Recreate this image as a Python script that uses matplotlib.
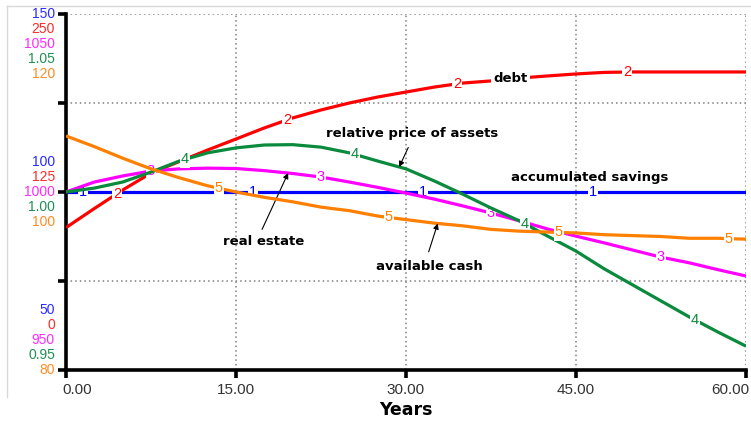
import numpy as np
import matplotlib
matplotlib.use('Agg')
import matplotlib.pyplot as plt
import matplotlib.transforms as mtransforms
from matplotlib.lines import Line2D

# time axis (years) and the five simulated series
years = [0, 2.5, 5, 7.5, 10, 12.5, 15, 17.5, 20, 22.5, 25, 27.5, 30,
         32.5, 35, 37.5, 40, 42.5, 45, 47.5, 50, 52.5, 55, 57.5, 60]

accumulated_savings = [100.0] * len(years)

debt = [100.0, 113.4, 126.4, 138.3, 146.4, 154.5, 162.2, 170.0, 177.0,
        182.6, 187.5, 191.7, 195.2, 198.7, 201.5, 203.0, 205.0, 206.5,
        207.9, 209.0, 209.3, 209.3, 209.3, 209.3, 209.3]

real_estate = [1000.0, 1002.8, 1004.5, 1005.9, 1006.5, 1006.7, 1006.6,
               1006.0, 1005.2, 1004.2, 1002.8, 1001.3, 999.7, 998.0, 996.1,
               994.1, 991.9, 989.6, 987.6, 985.7, 983.7, 981.7, 980.1,
               978.2, 976.4]

relative_price = [1.0000, 1.0011, 1.0028, 1.0056, 1.0087, 1.0110, 1.0124,
                  1.0132, 1.0133, 1.0126, 1.0110, 1.0087, 1.0065, 1.0031,
                  0.9994, 0.9955, 0.9919, 0.9876, 0.9834, 0.9784, 0.9739,
                  0.9694, 0.9649, 0.9607, 0.9567]

available_cash = [106.3, 105.1, 103.8, 102.6, 101.6, 100.7, 100.0, 99.4,
                  98.9, 98.3, 97.9, 97.3, 96.9, 96.5, 96.2, 95.8, 95.6,
                  95.5, 95.4, 95.2, 95.1, 95.0, 94.8, 94.8, 94.7]

# per-series axis ranges and the left-hand labels (bottom, middle, top)
scales = [(50, 150), (0, 250), (950, 1050), (0.95, 1.05), (80, 120)]
axis_labels = [['50', '100', '150'],
               ['0', '125', '250'],
               ['950', '1000', '1050'],
               ['0.95', '1.00', '1.05'],
               ['80', '100', '120']]

x_ticks = [0, 15, 30, 45, 60]
x_tick_labels = ['0.00', '15.00', '30.00', '45.00', '60.00']

series = [accumulated_savings, debt, real_estate, relative_price, available_cash]
line_colors = ['#0000ff', '#ff0000', '#ff00ff', '#0a8a3c', '#ff8000']
text_colors = ['#2a2aff', '#ff2a2a', '#ff2aff', '#209050', '#ff8c22']

fig = plt.figure(figsize=(7.51, 4.21), dpi=100)
ax = fig.add_axes([66 / 751, 1 - 370 / 421, 680 / 751, 356 / 421])
axes = [ax] + [ax.twinx() for _ in range(4)]

for a, (lo, hi) in zip(axes, scales):
    a.set_xlim(0, 60)
    a.set_ylim(lo, hi)

for a in axes[1:]:
    for s in a.spines.values():
        s.set_visible(False)
    a.set_yticks([])

# main frame: thick left/bottom axes, dotted grid
ax.spines['top'].set_visible(False)
ax.spines['right'].set_visible(False)
ax.spines['left'].set_linewidth(2.6)
ax.spines['bottom'].set_linewidth(2.6)
ax.set_xticks(x_ticks)
ax.set_xticklabels(x_tick_labels, family='Liberation Sans', fontsize=11, color='#333333')
ax.set_yticks(np.linspace(50, 150, 5))
ax.tick_params(axis='both', direction='out', length=6, width=2.6, pad=3)
ax.tick_params(axis='y', labelleft=False)
ax.grid(True, linestyle=(0, (1, 2)), color='#808080', linewidth=1.1)
ax.set_xlabel('Years', fontsize=12.5, fontweight='bold', labelpad=3)

# first and last x labels hug the ends of the axis, like the original
ticklabels = ax.get_xticklabels()
ticklabels[0].set_ha('left')
ticklabels[0].set_transform(ticklabels[0].get_transform() +
                            mtransforms.ScaledTranslation(-4 / 100, 0, fig.dpi_scale_trans))
ticklabels[-1].set_ha('right')
ticklabels[-1].set_transform(ticklabels[-1].get_transform() +
                             mtransforms.ScaledTranslation(3 / 100, 0, fig.dpi_scale_trans))

# stacked, coloured value labels on the left
for k, (a, labels, col) in enumerate(zip(axes, axis_labels, text_colors)):
    lo, hi = scales[k]
    mid = (lo + hi) / 2
    offsets = [(4 - k) * 10.8, (2 - k) * 10.8, -k * 10.8]
    for val, lab, off in zip([lo, mid, hi], labels, offsets):
        a.annotate(lab, xy=(0, val), xycoords=a.get_yaxis_transform(),
                   xytext=(-8, off), textcoords='offset points',
                   ha='right', va='center', color=col,
                   family='Liberation Sans', fontsize=10, annotation_clip=False)

# the curves with their numbered markers
for k, (a, ys, col) in enumerate(zip(axes, series, line_colors)):
    a.plot(years, ys, color=col, linewidth=2.3, solid_capstyle='butt')
    for j in range(4):
        t = 1.5 + 3 * k + 15 * j
        a.text(t, np.interp(t, years, ys), str(k + 1), color=col,
               ha='center', va='center', family='Liberation Sans', fontsize=10.5,
               bbox=dict(facecolor='white', edgecolor='none', pad=0.8))

# text annotations
font = dict(fontsize=9.5, fontweight='bold', color='black', ha='center', va='center')
arrow = dict(arrowstyle='-|>', color='black', lw=0.8, mutation_scale=8,
             shrinkA=0, shrinkB=0)

ax_debt = axes[1]
ax_debt.text(39.2, np.interp(39.2, years, debt), 'debt',
             bbox=dict(facecolor='white', edgecolor='none', pad=1.5), **font)
ax.text(46.2, 104.2, 'accumulated savings', **font)

ax.text(30.5, 116.3, 'relative price of assets', **font)
axes[3].annotate('', xy=(29.4, np.interp(29.4, years, relative_price)),
                 xytext=(30.2, 112.5), textcoords=ax.transData, arrowprops=arrow)

ax.text(17.4, 86.2, 'real estate', **font)
axes[2].annotate('', xy=(19.6, np.interp(19.6, years, real_estate)),
                 xytext=(17.3, 89.5), textcoords=ax.transData, arrowprops=arrow)

ax.text(32.1, 79.2, 'available cash', **font)
axes[4].annotate('', xy=(32.8, np.interp(32.8, years, available_cash)),
                 xytext=(32.0, 83.2), textcoords=ax.transData, arrowprops=arrow)

# light window frame seen in the screenshot
fig.add_artist(Line2D([7 / 751, 7 / 751], [1 - 6 / 421, 1 - 397 / 421],
                      transform=fig.transFigure, color='#d8d8d8', lw=1))
fig.add_artist(Line2D([7 / 751, 1.0], [1 - 6 / 421, 1 - 6 / 421],
                      transform=fig.transFigure, color='#d8d8d8', lw=1))

fig.savefig('out.png', dpi=100)
